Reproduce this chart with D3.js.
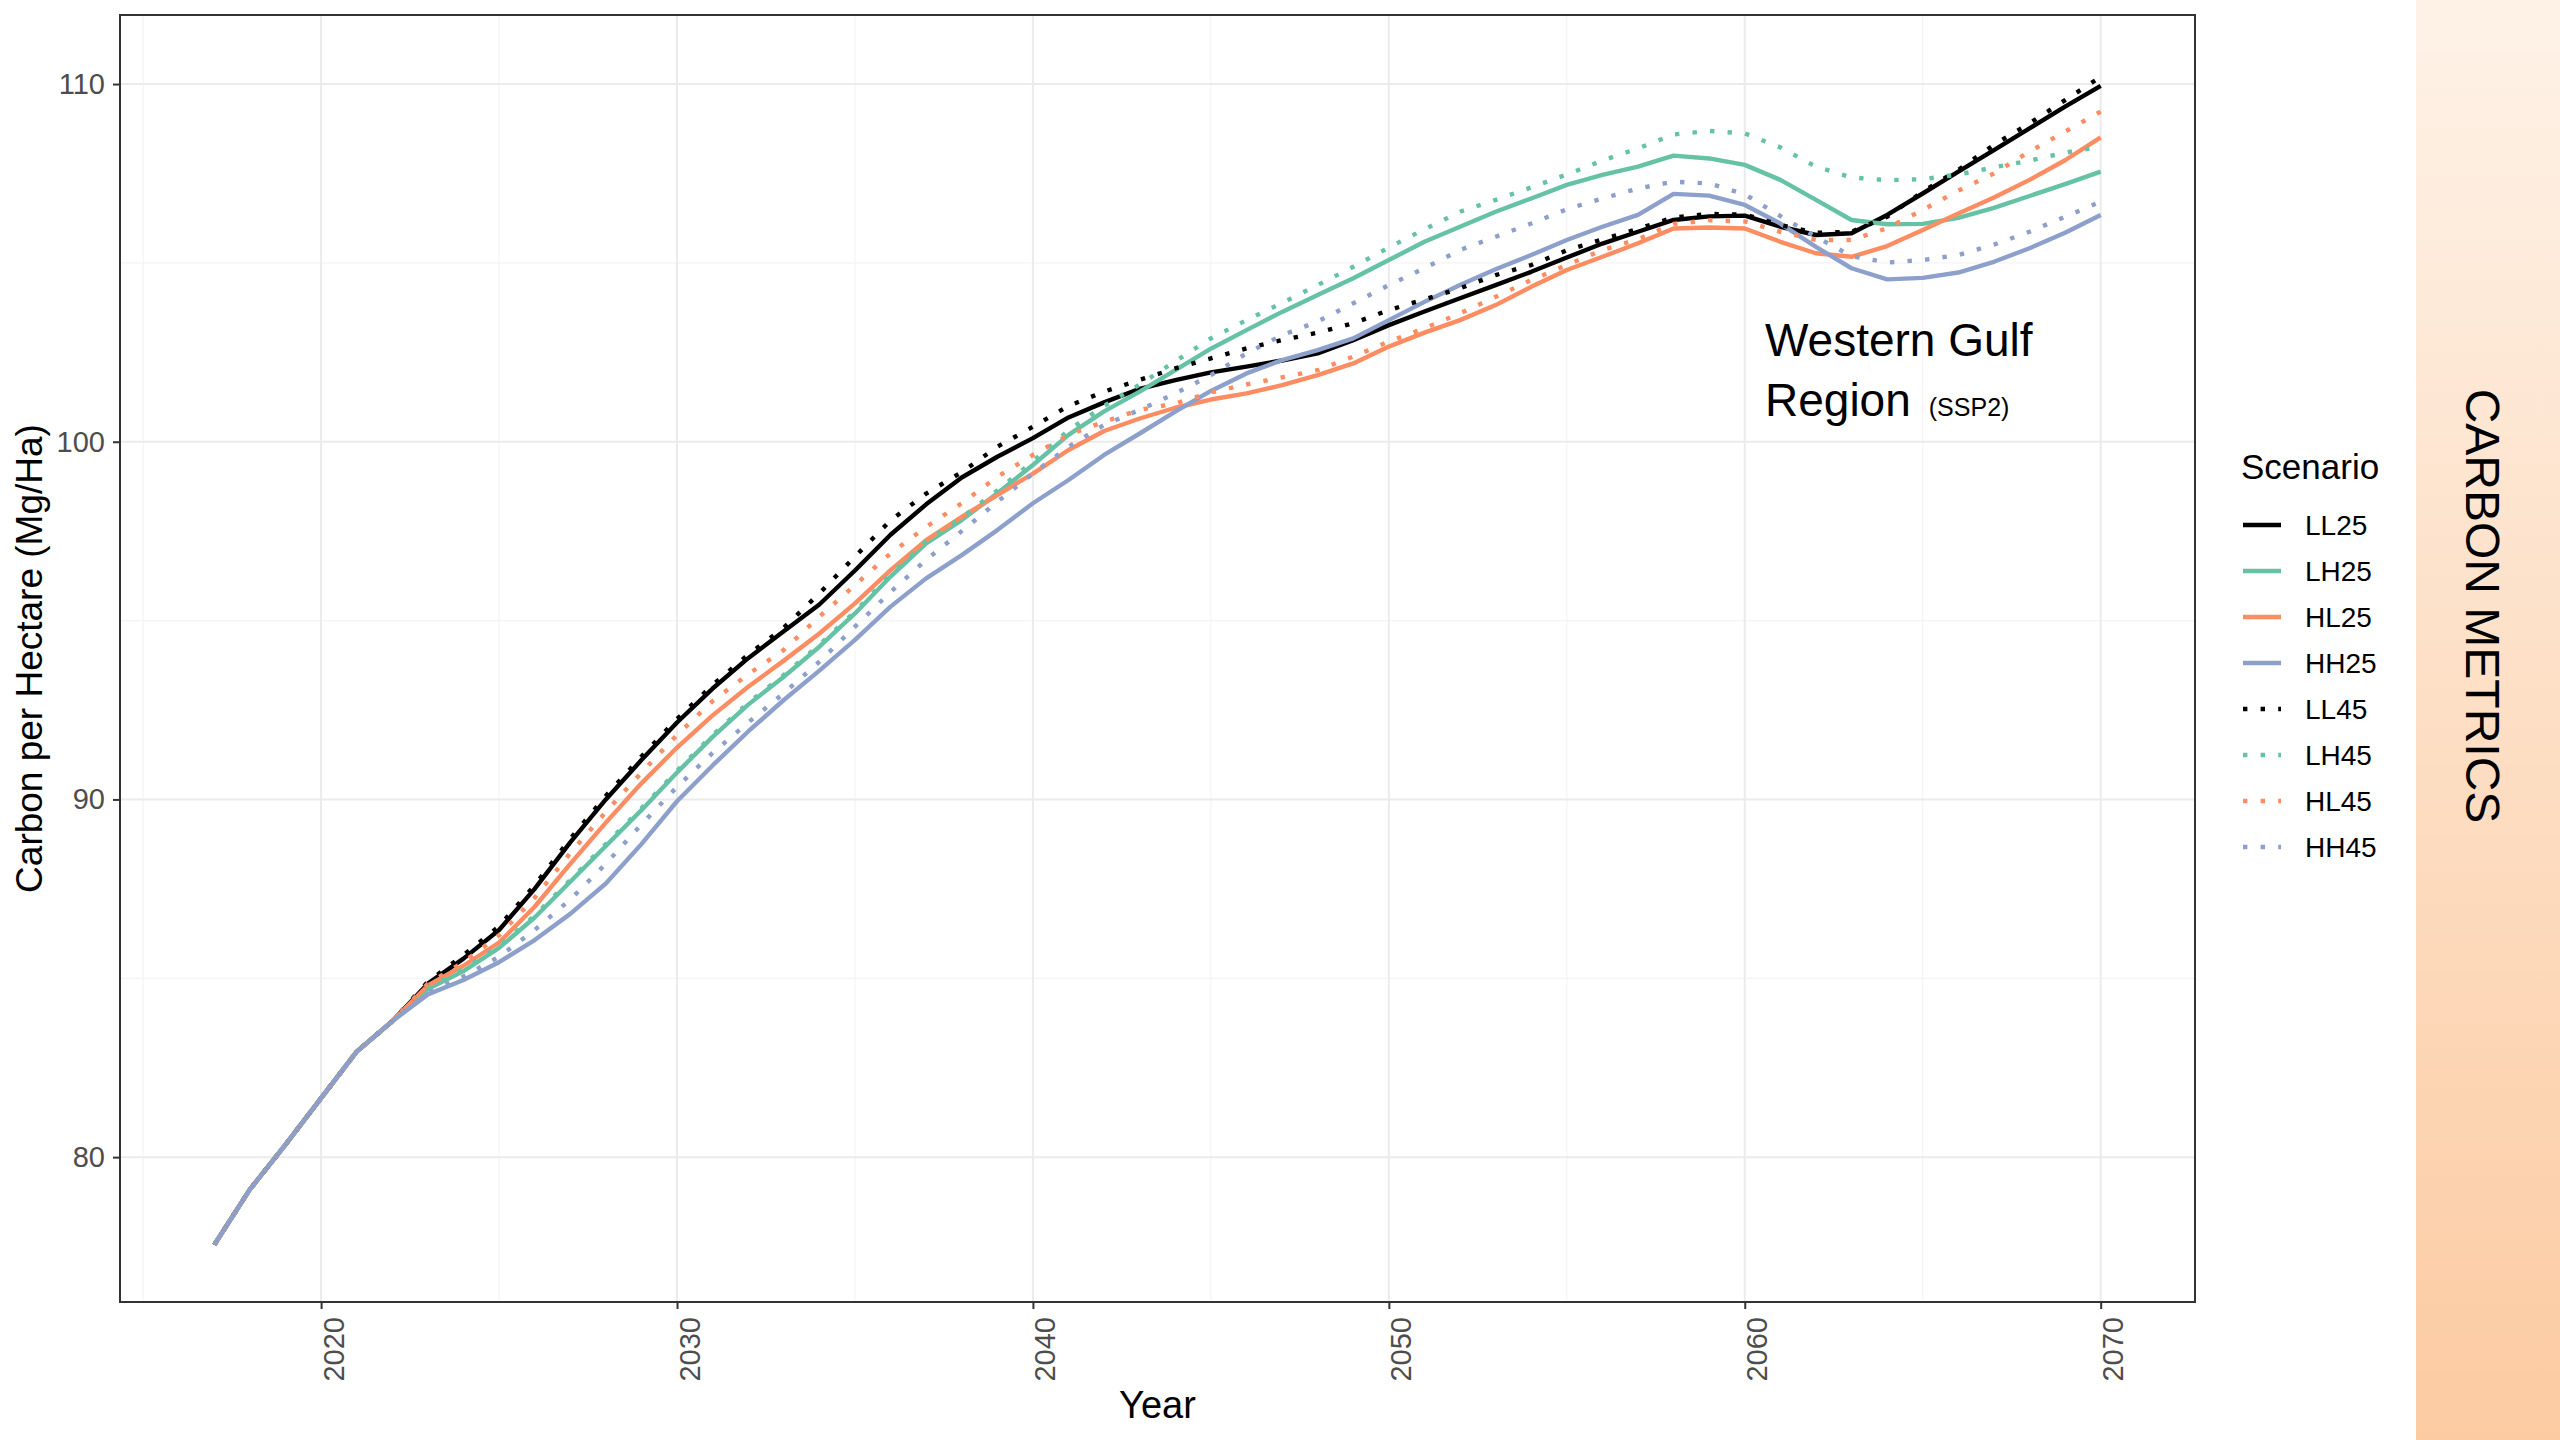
<!DOCTYPE html>
<html>
<head>
<meta charset="utf-8">
<script src="https://cdn.jsdelivr.net/npm/d3@7"></script>
<style>
  html, body { margin: 0; padding: 0; background: #ffffff; }
  svg { display: block; font-family: "Liberation Sans", Arial, Helvetica, sans-serif; }
</style>
</head>
<body>
<svg id="chart" width="2560" height="1440"></svg>
<script>
// ---- data: carbon per hectare (Mg/Ha) by year, one array per scenario ----
const years = d3.range(2017, 2071);

const LL25 = [77.55, 79.1, 80.35, 81.65, 82.95, 83.8, 84.85, 85.55, 86.35, 87.5,
  88.8, 90.0, 91.1, 92.15, 93.1, 93.95, 94.7, 95.45, 96.4, 97.4,
  98.25, 99.0, 99.58, 100.1, 100.68, 101.1, 101.48, 101.72, 101.94, 102.1,
  102.27, 102.47, 102.84, 103.26, 103.64, 104.01, 104.38, 104.75, 105.15, 105.54,
  105.87, 106.2, 106.3, 106.32, 106.01, 105.78, 105.83, 106.34, 106.94, 107.55,
  108.15, 108.76, 109.37, 109.95];

const LH25 = [77.55, 79.1, 80.35, 81.65, 82.95, 83.8, 84.7, 85.2, 85.85, 86.7,
  87.7, 88.7, 89.7, 90.75, 91.75, 92.65, 93.43, 94.27, 95.2, 96.23,
  97.16, 97.81, 98.56, 99.35, 100.19, 100.85, 101.4, 102.0, 102.6, 103.12,
  103.63, 104.1, 104.57, 105.08, 105.59, 106.01, 106.43, 106.8, 107.18, 107.46,
  107.69, 108.0, 107.92, 107.74, 107.32, 106.76, 106.2, 106.08, 106.09, 106.26,
  106.54, 106.87, 107.2, 107.55];

const HL25 = [77.55, 79.1, 80.35, 81.65, 82.95, 83.8, 84.8, 85.35, 86.0, 87.0,
  88.2, 89.35, 90.45, 91.45, 92.35, 93.15, 93.88, 94.64, 95.48, 96.41,
  97.25, 97.9, 98.51, 99.11, 99.77, 100.3, 100.65, 100.95, 101.18, 101.35,
  101.58, 101.86, 102.19, 102.66, 103.05, 103.4, 103.82, 104.33, 104.8, 105.17,
  105.55, 105.96, 105.99, 105.96, 105.59, 105.27, 105.17, 105.47, 105.92, 106.38,
  106.83, 107.32, 107.87, 108.51];

const HH25 = [77.55, 79.1, 80.35, 81.65, 82.95, 83.8, 84.55, 84.95, 85.45, 86.07,
  86.8, 87.65, 88.75, 89.95, 90.95, 91.9, 92.78, 93.6, 94.46, 95.39,
  96.18, 96.83, 97.53, 98.28, 98.93, 99.63, 100.23, 100.84, 101.42, 101.91,
  102.28, 102.56, 102.89, 103.4, 103.91, 104.38, 104.82, 105.22, 105.64, 106.01,
  106.34, 106.93, 106.88, 106.62, 106.1, 105.45, 104.85, 104.54, 104.58, 104.73,
  105.03, 105.41, 105.84, 106.34];

const LL45 = [77.55, 79.1, 80.35, 81.65, 82.95, 83.8, 84.9, 85.65, 86.45, 87.6,
  88.9, 90.1, 91.2, 92.25, 93.2, 94.05, 94.8, 95.76, 96.79, 97.8,
  98.55, 99.15, 99.86, 100.42, 101.0, 101.4, 101.73, 102.05, 102.33, 102.61,
  102.84, 103.05, 103.31, 103.68, 103.98, 104.29, 104.66, 104.94, 105.35, 105.66,
  105.95, 106.27, 106.37, 106.35, 106.06, 105.84, 105.87, 106.29, 106.99, 107.6,
  108.3, 108.9, 109.55, 110.2];

const LH45 = [77.55, 79.1, 80.35, 81.65, 82.95, 83.8, 84.72, 85.25, 85.9, 86.75,
  87.75, 88.75, 89.75, 90.8, 91.8, 92.7, 93.48, 94.32, 95.25, 96.28,
  97.22, 97.88, 98.64, 99.45, 100.32, 101.0, 101.6, 102.25, 102.89, 103.4,
  103.88, 104.38, 104.89, 105.43, 105.94, 106.43, 106.76, 107.11, 107.47, 107.86,
  108.2, 108.59, 108.69, 108.62, 108.23, 107.69, 107.39, 107.31, 107.34, 107.47,
  107.67, 107.86, 108.08, 108.25];

const HL45 = [77.55, 79.1, 80.35, 81.65, 82.95, 83.8, 84.85, 85.45, 86.2, 87.25,
  88.5, 89.65, 90.75, 91.8, 92.75, 93.5, 94.18, 95.11, 95.99, 96.88,
  97.62, 98.28, 99.02, 99.63, 100.19, 100.56, 100.89, 101.07, 101.38, 101.6,
  101.8, 102.0, 102.38, 102.8, 103.17, 103.59, 104.05, 104.52, 104.94, 105.36,
  105.66, 106.09, 106.19, 106.16, 105.87, 105.64, 105.64, 105.97, 106.48, 107.02,
  107.5, 108.11, 108.67, 109.23];

const HH45 = [77.55, 79.1, 80.35, 81.65, 82.95, 83.8, 84.6, 85.05, 85.6, 86.35,
  87.2, 88.2, 89.3, 90.35, 91.3, 92.15, 92.97, 93.85, 94.83, 95.8,
  96.7, 97.5, 98.32, 99.11, 99.86, 100.47, 100.89, 101.35, 101.86, 102.47,
  102.98, 103.36, 103.87, 104.38, 104.85, 105.36, 105.73, 106.1, 106.5, 106.8,
  107.08, 107.27, 107.22, 106.92, 106.31, 105.73, 105.19, 105.01, 105.08, 105.22,
  105.51, 105.87, 106.29, 106.71];

const scenarioNames = ["LL25", "LH25", "HL25", "HH25", "LL45", "LH45", "HL45", "HH45"];
const scenarioValues = [LL25, LH25, HL25, HH25, LL45, LH45, HL45, HH45];
const scenarioColors = ["#000000", "#66c2a5", "#fc8d62", "#8da0cb",
                        "#000000", "#66c2a5", "#fc8d62", "#8da0cb"];
const scenarioDotted = [false, false, false, false, true, true, true, true];

const xTicks = [2020, 2030, 2040, 2050, 2060, 2070];
const xMinor = [2015, 2025, 2035, 2045, 2055, 2065];
const yTicks = [80, 90, 100, 110];
const yMinor = [85, 95, 105];

// ---- layout ----
const svg = d3.select("#chart");
const panel = { left: 120, right: 2195, top: 15, bottom: 1302 };

const x = d3.scaleLinear().domain([2014.35, 2072.65]).range([panel.left, panel.right]);
const y = d3.scaleLinear().domain([75.95, 111.93]).range([panel.bottom, panel.top]);

// side banner with soft peach gradient
const defs = svg.append("defs");
const grad = defs.append("linearGradient")
  .attr("id", "bannerGrad").attr("x1", 0).attr("y1", 0).attr("x2", 0).attr("y2", 1);
grad.append("stop").attr("offset", "0%").attr("stop-color", "#fef2e7");
grad.append("stop").attr("offset", "100%").attr("stop-color", "#fccba2");

svg.append("rect").attr("x", 2416).attr("y", 0).attr("width", 144).attr("height", 1440)
  .attr("fill", "url(#bannerGrad)");
svg.append("text")
  .attr("transform", "translate(2466,606) rotate(90)")
  .attr("text-anchor", "middle")
  .attr("font-size", 48)
  .attr("fill", "#000")
  .text("CARBON METRICS");

// ---- grid ----
const grid = svg.append("g");
grid.selectAll(".xminor").data(xMinor.filter(d => d > x.domain()[0])).join("line")
  .attr("x1", d => x(d)).attr("x2", d => x(d))
  .attr("y1", panel.top).attr("y2", panel.bottom)
  .attr("stroke", "#f4f4f4").attr("stroke-width", 1.2);
grid.selectAll(".yminor").data(yMinor).join("line")
  .attr("x1", panel.left).attr("x2", panel.right)
  .attr("y1", d => y(d)).attr("y2", d => y(d))
  .attr("stroke", "#f4f4f4").attr("stroke-width", 1.2);
grid.selectAll(".xmajor").data(xTicks).join("line")
  .attr("x1", d => x(d)).attr("x2", d => x(d))
  .attr("y1", panel.top).attr("y2", panel.bottom)
  .attr("stroke", "#ebebeb").attr("stroke-width", 2);
grid.selectAll(".ymajor").data(yTicks).join("line")
  .attr("x1", panel.left).attr("x2", panel.right)
  .attr("y1", d => y(d)).attr("y2", d => y(d))
  .attr("stroke", "#ebebeb").attr("stroke-width", 2);

// ---- lines: solid scenarios first, dotted ones over them ----
const line = d3.line().x((d, i) => x(years[i])).y(d => y(d)).curve(d3.curveLinear);
const lines = svg.append("g").attr("fill", "none");
scenarioValues.forEach((vals, k) => {
  lines.append("path")
    .datum(vals)
    .attr("d", line)
    .attr("stroke", scenarioColors[k])
    .attr("stroke-width", 4.4)
    .attr("stroke-linejoin", "round")
    .attr("stroke-dasharray", scenarioDotted[k] ? "4.4,13.2" : null);
});

// ---- panel border ----
svg.append("rect")
  .attr("x", panel.left).attr("y", panel.top)
  .attr("width", panel.right - panel.left).attr("height", panel.bottom - panel.top)
  .attr("fill", "none").attr("stroke", "#333333").attr("stroke-width", 2);

// ---- axes ----
const yAxis = svg.append("g")
  .attr("transform", `translate(${panel.left},0)`)
  .call(d3.axisLeft(y).tickValues(yTicks).tickSize(7).tickPadding(8).tickFormat(d3.format("d")));
yAxis.select(".domain").remove();
yAxis.selectAll(".tick line").attr("stroke", "#333333").attr("stroke-width", 2);
yAxis.selectAll(".tick text").attr("font-size", 29).attr("fill", "#4d4d4d")
  .attr("font-family", "Liberation Sans, Arial, sans-serif");

const xAxis = svg.append("g")
  .attr("transform", `translate(0,${panel.bottom})`)
  .call(d3.axisBottom(x).tickValues(xTicks).tickSize(7).tickFormat(d3.format("d")));
xAxis.select(".domain").remove();
xAxis.selectAll(".tick line").attr("stroke", "#333333").attr("stroke-width", 2);
xAxis.selectAll(".tick text")
  .attr("font-size", 29).attr("fill", "#4d4d4d")
  .attr("font-family", "Liberation Sans, Arial, sans-serif")
  .attr("text-anchor", "end")
  .attr("dy", null)
  .attr("y", 0)
  .attr("transform", "translate(22,15) rotate(-90)");

// axis titles
svg.append("text")
  .attr("x", (panel.left + panel.right) / 2).attr("y", 1418)
  .attr("text-anchor", "middle").attr("font-size", 38).attr("fill", "#000")
  .text("Year");
svg.append("text")
  .attr("transform", `translate(42,${(panel.top + panel.bottom) / 2}) rotate(-90)`)
  .attr("text-anchor", "middle").attr("font-size", 37).attr("fill", "#000")
  .text("Carbon per Hectare (Mg/Ha)");

// ---- annotation ----
const note = svg.append("g").attr("fill", "#000");
note.append("text").attr("x", 1765).attr("y", 356).attr("font-size", 46).text("Western Gulf");
const t2 = note.append("text").attr("x", 1765).attr("y", 416).attr("font-size", 46);
t2.append("tspan").text("Region");
t2.append("tspan").attr("dx", 18).attr("font-size", 25).text("(SSP2)");

// ---- legend ----
const legend = svg.append("g").attr("transform", "translate(2241,0)");
legend.append("text").attr("x", 0).attr("y", 479).attr("font-size", 35).attr("fill", "#000")
  .text("Scenario");
scenarioNames.forEach((name, i) => {
  const base = 535 + i * 46;
  legend.append("line")
    .attr("x1", 2).attr("x2", 40).attr("y1", base - 10).attr("y2", base - 10)
    .attr("stroke", scenarioColors[i]).attr("stroke-width", 4.4)
    .attr("stroke-dasharray", scenarioDotted[i] ? "4.4,13.2" : null);
  legend.append("text").attr("x", 64).attr("y", base).attr("font-size", 28).attr("fill", "#000")
    .text(name);
});
</script>
</body>
</html>
